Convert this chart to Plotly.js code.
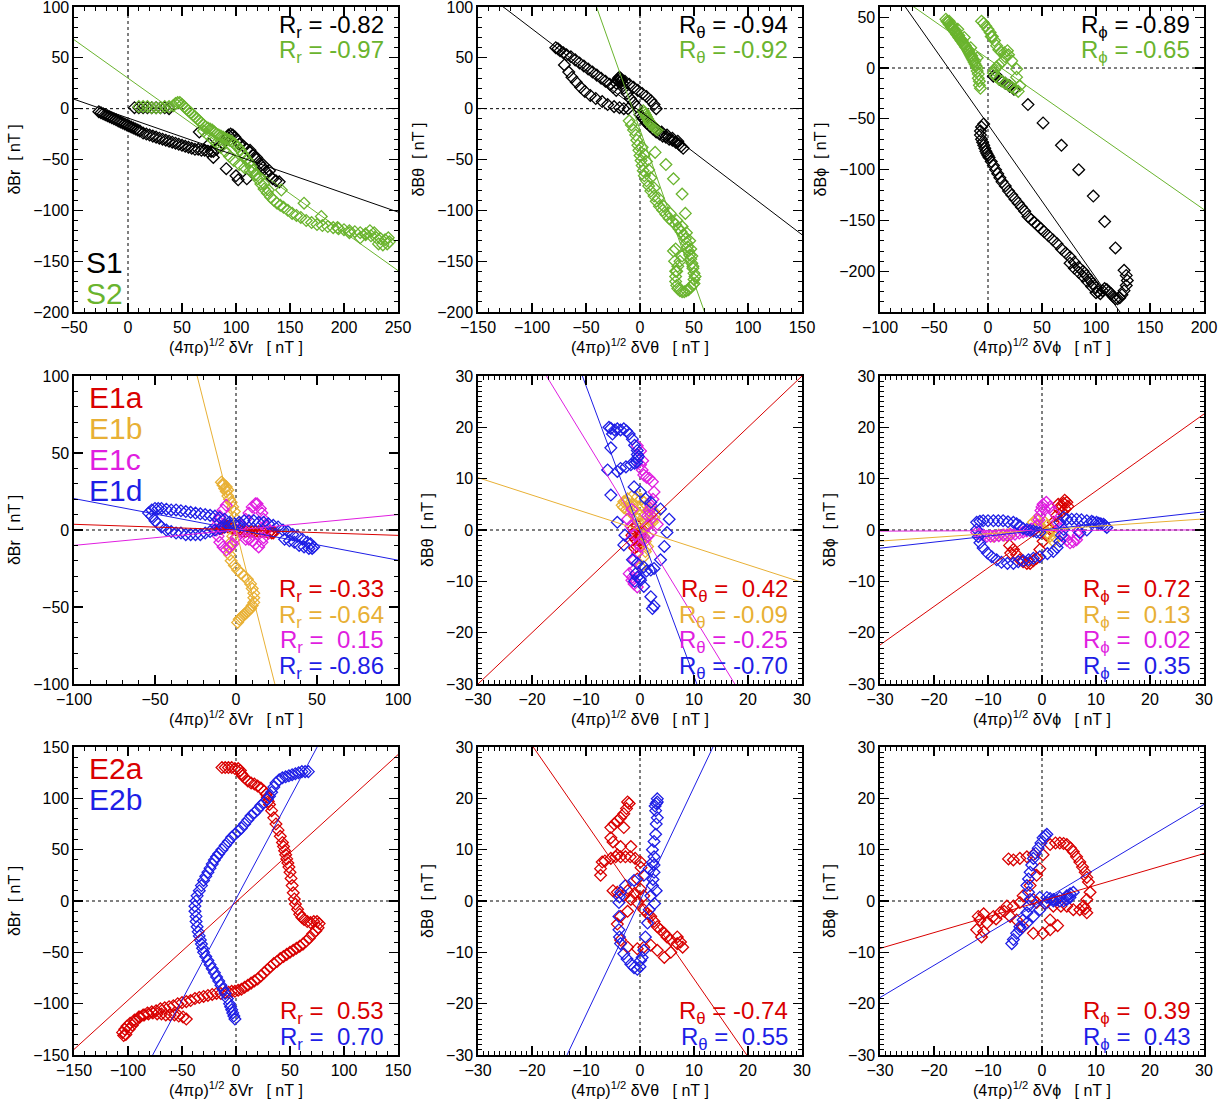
<!DOCTYPE html>
<html><head><meta charset="utf-8">
<script src="https://cdn.plot.ly/plotly-3.0.1.min.js"></script>
<style>body{margin:0;background:#fff}#c{width:1231px;height:1102px}</style>
</head><body><div id="c"></div><script>
// ---------------- DATA ----------------
// Row 1 : S1 (black) and S2 (green)
const P1_S1 = [[-27,-3],[-25,-4],[-23,-5],[-21,-6],[-19,-7],[-17,-8],[-15,-9],[-13,-10],[-11,-11],[-9,-12],[-7,-13],[-5,-14],[-3,-15],[-1,-16],[1,-17],[3,-18],[5,-19],[7,-20],[9,-21],[11,-22],[14,-24],[17,-25],[20,-26],[23,-27],[26,-28],[29,-29],[32,-30],[35,-31],[38,-32],[41,-33],[44,-34],[47,-35],[50,-36],[53,-37],[56,-38],[59,-39],[62,-40],[65,-40],[68,-41],[71,-41],[74,-42],[77,-42],[79,-42],
[82,-40],[85,-37],[88,-34],[90,-31],[92,-28],[93,-26],[95,-25],[97,-26],[99,-28],
[101,-31],[104,-34],[107,-37],[110,-40],[113,-43],[116,-46],[119,-50],[122,-54],[125,-58],[128,-62],[131,-66],[134,-69],[137,-71],[140,-72],
[66,-23],[75,-35],[79,-48],[91,-59],[100,-66],[102,-70],[110,-69],[103,-35],[113,-41],[119,-48],[125,-55],[131,-61],
[6,1],[10,1],[14,1],[18,1],[22,1],[26,1],[30,1],[34,1],[38,0]];
const P1_S2 = [[10,2],[14,2],[18,2],[22,1],[26,1],[30,1],[34,2],[38,2],[42,3],
[44,5],[46,6],[48,6],[50,4],[52,2],[54,0],[56,-2],[58,-4],[60,-6],[62,-8],[64,-10],[66,-12],[68,-14],[70,-16],[72,-18],[74,-19],[76,-20],[78,-21],[80,-23],[82,-25],[84,-26],[86,-27],[88,-28],[90,-29],[92,-30],[94,-31],[96,-32],[98,-34],[100,-36],[102,-38],[104,-41],[106,-44],[108,-47],[110,-50],[112,-53],[114,-57],[116,-61],[118,-65],[120,-69],
[123,-74],[126,-79],[129,-83],[132,-87],[135,-90],[138,-93],[141,-95],[144,-97],[148,-100],[152,-103],[156,-105],[160,-107],[165,-110],[170,-112],[175,-114],[180,-115],[185,-116],[190,-117],[195,-118],[200,-119],[205,-120],[210,-121],[215,-122],[220,-124],[225,-125],[230,-127],[234,-128],[238,-129],[241,-127],[242,-131],[240,-133],[236,-134],[232,-133],[228,-122],[224,-120],[220,-123],
[70,-22],[74,-26],[78,-30],[82,-34],[86,-38],[90,-42],[94,-47],[98,-51],[103,-55],[108,-58],[113,-61],[118,-65],[122,-68],[126,-74],[130,-80],
[142,-80],[163,-93],[179,-106],[194,-117],[205,-122],[215,-127]];

const P2_S1 = [[-78,60],[-76,59],[-74,57],[-71,55],[-68,53],[-64,51],[-60,48],[-56,45],[-52,42],[-48,39],[-44,36],[-40,33],[-36,30],[-32,27],[-28,24],[-25,21],[-22,18],
[-70,43],[-66,36],[-63,31],[-59,26],[-55,21],[-51,17],[-46,13],[-41,10],[-35,7],[-30,4],[-24,2],[-19,1],[-15,0],[-11,0],
[-22,25],[-21,28],[-20,30],[-19,31],[-18,30],[-17,28],[-16,25],[-20,27],[-18,26],
[-14,27],[-10,24],[-6,21],[-2,18],[2,15],[6,12],[10,8],[13,4],[15,0],
[-15,20],[-12,15],[-9,10],[-6,6],[-3,2],
[0,-6],[3,-10],[6,-14],[9,-17],[12,-20],[15,-23],[18,-25],[21,-27],[24,-28],[27,-30],[30,-31],[33,-33],[36,-35],[38,-37],[40,-39],[20,-23],[25,-26],[30,-29],[35,-32],[5,-12],[2,-8]];
const P2_S2 = [[3,-2],[4,-4],[5,-6],[6,-8],[7,-10],[8,-12],[9,-14],[10,-15],[11,-16],[12,-17],[13,-18],[14,-19],[15,-20],[16,-21],
[-10,-12],[-8,-16],[-6,-21],[-4,-26],[-3,-31],[-2,-36],[-1,-41],[0,-46],[1,-51],[2,-56],[3,-61],[4,-66],[6,-71],[8,-76],[10,-81],[13,-86],[15,-91],[18,-96],[21,-100],[24,-104],[27,-108],[30,-111],[33,-114],[36,-118],[38,-121],[40,-124],[42,-128],[43,-132],[44,-136],[45,-140],[46,-144],[47,-148],[48,-152],[49,-157],[50,-162],[50,-168],[49,-173],[47,-176],[45,-178],[43,-179],[41,-180],[39,-180],[37,-179],[35,-177],[34,-174],[33,-170],[33,-165],[34,-160],[35,-155],[37,-150],[39,-145],[33,-160],[32,-150],[31,-140],[33,-138],
[2,-38],[4,-45],[6,-52],[8,-60],[10,-68],[13,-78],[17,-88],[22,-96],[28,-103],[34,-110],[39,-116],[43,-122],[46,-130],[47,-138],[48,-145],[49,-155],[51,-165],[50,-172],
[14,-43],[24,-55],[31,-69],[39,-84],[42,-103]];

const P3_S1 = [[-4,-55],[-6,-58],[-7,-62],[-7,-66],[-6,-70],[-5,-73],[-4,-76],[-3,-79],[-2,-82],[-1,-84],[0,-86],[1,-88],[3,-92],[5,-96],[7,-100],[9,-104],[11,-108],[13,-112],[16,-116],[19,-121],[22,-125],[25,-129],[28,-133],[31,-137],[34,-141],[37,-146],[40,-149],[43,-152],[46,-155],[49,-158],[52,-161],[56,-165],[60,-169],[64,-173],[68,-178],[72,-182],[76,-186],[80,-191],[84,-196],[88,-200],[91,-204],[94,-208],[97,-212],[100,-216],
[102,-220],[104,-222],[106,-219],[108,-217],[110,-218],[112,-220],[114,-222],[116,-225],[118,-227],[120,-227],[122,-226],[124,-223],[126,-219],[128,-214],[129,-209],[128,-204],[126,-199],
[76,-192],[80,-197],[84,-201],[88,-205],[92,-210],[96,-215],[100,-221],
[118,-177],[108,-151],[97.5,-126],[84,-100],[68,-76],[51,-54],[37,-36],[20,-17.5],[11,-11],[5,-8],
[8,-8],[12,-12],[16,-15],[20,-18],[24,-21]];
const P3_S2 = [[-39,48],[-38,46],[-37,45],[-36,43],[-35,42],[-34,40],[-33,39],[-32,38],[-31,36],[-30,35],[-29,33],[-28,32],[-27,30],[-26,29],[-25,27],[-24,26],[-23,24],[-22,23],[-21,21],[-20,20],[-19,18],[-18,16],[-17,14],[-16,12],[-15,10],[-14,8],[-13,6],[-12,4],[-11,2],[-10,0],[-10,-3],[-9,-6],[-9,-10],[-8,-13],[-8,-17],[-7,-20],
[-33,42],[-30,37],[-27,32],[-24,27],[-21,22],[-18,17],[-15,12],[-12,7],[-36,46],[-28,38],[-22,30],[-16,20],[-10,10],
[-6,46],[-4,44],[-2,41],[0,38],[2,35],[4,31],[6,27],[8,22],[10,18],[12,16],[15,15],[18,17],[16,11],[13,6],[10,3],[8,1],[6,-2],[5,-5],[7,-8],[10,-11],[13,-13],[16,-15],[19,-17],[22,-19],[25,-21],[28,-23],
[3,31],[19,13],[22,7],[26.5,-1],[26.5,-9],[29.6,-17.5]];

// Row 2 : E1a (red), E1b (orange), E1c (magenta), E1d (blue)
const P4_E1a = [[-10,1],[-9,2],[-8,2],[-7,3],[-6,3],[-5,2],[-4,2],[-2,1],[0,0],[2,0],[4,-1],[6,-1],[8,-1],[10,-1],[12,-1],[14,-1],[16,-1],[18,-1],[20,-2],[22,-2],[23,-2],[-9,1],[-7,2],[21,-1],[23,-1]];
const P4_E1b = [[-9,31],[-8,29],[-7,27],[-6,25],[-5,22],[-4,20],[-3,18],[-2,15],[-1,12],[-1,8],[-1,4],[-2,0],[-2,-4],[-3,-8],[-4,-12],[-4,-16],[-3,-20],[-1,-23],[1,-26],[3,-28],[5,-30],[7,-32],[9,-35],[10,-38],[11,-41],[11,-44],[11,-47],[10,-49],[9,-51],[8,-52],[7,-53],[6,-54],[5,-55],[4,-56],[3,-57],[2,-58],[1,-60],[-8,30],[-6,28],[-5,26]];
const P4_E1c = [[-6,16],[-8,13],[-10,9],[-11,6],[-12,3],[-12,0],[-11,-4],[-10,-8],[-8,-11],[-6,-13],[-4,-11],[-2,-9],[0,-5],[2,-1],[4,3],[6,7],[8,11],[10,15],[12,17],[13,17],[15,14],[16,11],[17,7],[18,3],[18,-1],[17,-5],[16,-8],[14,-11],[12,-9],[10,-7],[8,-6],[6,-6]];
const P4_E1d = [[-54,11],[-52,13],[-50,14],[-48,14],[-46,14],[-43,13.5],[-40,13],[-37,13],[-34,12.5],[-31,12],[-28,11.5],[-25,11],[-22,10.5],[-19,10],[-16,9.5],[-13,9],[-10,8],[-7,7],[-4,5],[-1,4],[2,3],
[-52,9],[-50,6],[-48,4],[-46,2],[-43,0],[-40,-1],[-37,-2],[-34,-2],[-31,-3],[-28,-3],[-25,-3],[-22,-3],[-19,-2],[-16,-1],[-13,0],[-10,1],[-7,2],[-4,3],[-1,4],[2,5],[5,6],[8,6],[11,6],[14,5],[17,5],[20,4],[23,3],[26,2],[29,0],[32,-1],[35,-3],[38,-4],[41,-6],[44,-8],[46,-9],[48,-11],[47,-12],[45,-12],[42,-11],[39,-10],[36,-8],[33,-7],[30,-6]];

const P5_E1a = [[-0.5,0.8],[-1.1,-0.5],[-0.8,-1.9],[0.1,-1.2],[0.4,0.1],[-0.2,-2.9],[-1.5,-1.0],[-1.0,-3.5],[0.0,-2.0],[0.3,-0.5],[-1.3,0.3],[-0.6,-3.2]];
const P5_E1b = [[-3.3,4.8],[-3.0,5.5],[-2.3,6.1],[-1.5,6.5],[-0.5,6.4],[0.2,6.0],[0.7,5.4],[1.3,4.7],[2.0,4.1],[2.5,3.6],[2.9,3.1],[2.6,2.3],[2.3,1.5],[1.5,1.0],[0.7,0.5],[0,1.2],[-0.5,2.1],[-1.1,2.8],[-1.7,3.5],[-2.5,4.0],[-3.0,4.4],[0.7,-1.2],[1.0,-2.2],[1.4,-3.2],[1.0,-4.2],[0.7,-5.2],[0.1,-7.2],[-2.0,5.0],[-1.0,4.0],[0.0,3.0],[1.0,3.0],[2.0,2.0],[-2.5,5.5],[-1.5,5.0],[0.5,4.5],[1.5,3.8]];
const P5_E1c = [[-0.5,16.4],[0.1,15.4],[0.1,12.7],[0.4,11.7],[0.7,10.7],[1.2,10.3],[1.7,10.1],[2.3,9.4],[2.6,7.4],[2.4,6.0],[2.0,4.8],[1.7,3.8],[1.4,2.8],[1.4,0.8],[2.0,-0.5],[1.5,-1.2],[0.7,-1.9],[0.1,-3.2],[-0.5,-4.5],[-1.1,-5.8],[-1.1,-7.8],[-1.4,-9.2],[-1.1,-10.5],[-0.5,-11.1],[-1.7,0.8],[-2.3,2.1],[-1.5,4.0],[2.0,2.8],[3.2,1.1],[-2.0,-8.5],[-1.5,-9.8],[0.5,13.5],[-1.8,-2.0],[-1.0,-1.0]];
const P5_E1d = [[-5.75,20],[-5.4,19.8],[-5.1,18.7],[-4.7,19.5],[-4.2,19.7],[-3.6,19.5],[-3.0,19.7],[-2.5,19.3],[-2.0,18.7],[-1.4,17.7],[-1.0,16.5],[-0.5,14.7],[-0.5,14.0],[-0.6,13.2],[-1.0,13.0],[-1.7,12.7],[-2.6,12.3],[-3.6,12.0],[-4.2,11.4],[-6.0,11.7],[-5.4,16.0],[-5.4,6.8],[-4.2,1.5],[-3.0,-2.9],[-1.4,-5.8],[-0.5,-6.5],[0.7,-7.2],[2.0,-7.8],[2.6,-7.5],[3.8,-5.8],[4.5,-3.2],[5.0,-0.5],[5.4,2.1],[3.8,4.1],[2.0,5.4],[1.0,6.1],[0.1,7.4],[-1.1,8.4],[-0.5,-9.2],[0.1,-9.8],[0.7,-11],[2.0,-13],[2.6,-14.8],[2.3,-15.3],[-0.8,-8.5],[-1.0,-10],[0.0,-9.5],[1.2,-8.0],[-0.5,15.5],[-0.3,14.3],[-2.8,-1.0]];

const P6_E1a = [[-5.3,-3.8],[-4.7,-4.8],[-4.1,-5.8],[-3.5,-6.2],[-2.8,-6.5],[-2.2,-6.5],[-1.6,-6.0],[-1.0,-5.5],[-0.4,-3.8],[0.2,-2.2],[0.8,-1.0],[1.5,0.1],[2.1,1.5],[2.7,2.8],[3.2,4.0],[3.6,4.8],[4.0,5.2],[4.6,5.4],[4.8,4.6],[4.3,4.1],[3.8,3.5],[-6.0,-3.0],[-5.8,-4.5],[3.0,5.0],[4.2,5.8]];
const P6_E1b = [[-9.0,-1.2],[-8.0,-1.0],[-7.0,-1.0],[-6.0,-0.8],[-1.6,1.5],[-1.0,2.0],[-0.5,1.0],[0.2,0.1],[0.9,0.8],[1.5,-1.2],[2.1,-2.2],[2.5,-1.5],[1.0,-0.5],[0.5,1.5],[-0.3,0.5]];
const P6_E1c = [[-12.1,-0.5],[-11.5,-0.8],[-10.9,-1.0],[-10.2,-1.2],[-9.5,-1.2],[-8.8,-1.2],[-8.0,-1.1],[-7.2,-1.0],[-6.5,-1.0],[-5.8,-0.9],[-5.0,-0.8],[-4.2,-0.6],[-3.5,-0.4],[-2.8,-0.2],[-2.0,0.2],[-1.0,0.8],[-0.6,2.0],[-0.4,2.8],[-0.2,3.8],[0.2,5.0],[0.8,5.4],[1.5,4.5],[2.1,3.5],[2.7,1.5],[3.3,0.3],[4.0,-1.2],[4.6,-2.0],[5.2,-2.5],[5.8,-2.3],[6.4,-1.9],[6.7,-1.0],[6.7,-0.2],[0.5,4.0],[0.0,4.5]];
const P6_E1d = [[-12.1,1.5],[-11.5,1.7],[-10.9,1.8],[-10.0,1.8],[-9.0,1.8],[-8.1,1.8],[-7.2,1.8],[-6.3,1.6],[-5.3,1.5],[-4.7,1.2],[-4.1,0.8],[-3.5,0.3],[-2.8,0.1],[-2.2,-0.1],[-1.6,-0.2],[-1.0,-0.4],[-0.4,-0.5],[-12.1,0.1],[-11.8,-1.3],[-11.5,-2.5],[-10.9,-3.5],[-10.1,-4.5],[-9.3,-5.2],[-8.4,-5.8],[-7.5,-6.3],[-6.4,-6.5],[-5.3,-6.5],[-4.4,-6.2],[-3.5,-6.0],[-2.5,-5.8],[-1.6,-5.5],[-0.4,-5.2],[1.0,-4.6],[2.1,-4.2],[2.8,-3.4],[3.3,-2.2],[3.6,-1.0],[4.0,0.1],[3.3,1.5],[4.0,2.5],[4.6,2.1],[5.5,2.1],[6.4,2.1],[7.3,2.0],[8.3,1.8],[9.2,1.7],[10.1,1.5],[10.9,1.2],[11.7,0.8],[12.0,0.5],[11.4,1.1],[10.5,1.3],[9.5,1.5],[8.3,0.0],[7.0,-0.5]];

// Row 3 : E2a (red), E2b (blue)
const P7_E2a = [[-13,130],[-10,130],[-7,130],[-4,130],[-1,129],[2,129],[4,127],[5,124],[6,122],[8,120],[11,117],[14,115],[17,114],[20,112],[23,110],[26,107],[28,104],[29,101],[30,97],[31,94],[33,88],[35,81],[37,75],[39,69],[41,63],[43,57],[44,53],[45,49],[46,45],[47,41],[48,37],[49,33],[50,28],[51,22],[52,15],[53,8],[54,2],[55,-3],[57,-8],[59,-13],[61,-16],[63,-18],[66,-20],[69,-21],[72,-20],[75,-20],[77,-22],[76,-26],[74,-29],[71,-32],[68,-36],[65,-39],[62,-42],[59,-44],[56,-46],[53,-48],[50,-50],[47,-52],[44,-54],[41,-56],[38,-59],[35,-61],[32,-64],[29,-67],[26,-70],[23,-73],[20,-76],[17,-78],[14,-80],[11,-82],[8,-84],[5,-86],[2,-87],[-1,-88],[-4,-88],[-7,-89],[-10,-89],[-14,-90],[-18,-90],[-22,-91],[-26,-92],[-30,-93],[-34,-94],[-38,-95],[-42,-97],[-46,-98],[-50,-99],[-54,-100],[-58,-102],[-62,-103],[-66,-104],[-70,-105],[-74,-107],[-78,-108],[-82,-109],[-86,-111],[-90,-113],[-94,-116],[-98,-119],[-101,-122],[-103,-125],[-105,-128],[-104,-131],[-102,-130],[-99,-125],[-96,-121],[-93,-117],[-89,-113],[-85,-111],[-81,-110],[-77,-109],[-73,-110],[-69,-110],[-65,-111],[-61,-111],[-57,-111],[-53,-112],[-49,-113],[-46,-115]];
const P7_E2b = [[-1,-115],[-2,-112],[-3,-109],[-4,-106],[-5,-103],[-6,-100],[-8,-95],[-10,-90],[-12,-86],[-14,-82],[-16,-78],[-18,-74],[-20,-70],[-22,-66],[-24,-62],[-26,-58],[-28,-54],[-30,-50],[-31,-46],[-32,-42],[-33,-38],[-34,-34],[-35,-30],[-36,-25],[-37,-20],[-37,-15],[-38,-10],[-38,-5],[-37,0],[-36,5],[-34,10],[-32,15],[-30,20],[-28,24],[-26,28],[-24,32],[-22,36],[-20,40],[-18,43],[-16,46],[-13,50],[-10,54],[-7,58],[-4,62],[-1,65],[2,68],[5,71],[8,75],[11,79],[14,83],[17,86],[20,89],[23,93],[26,96],[29,99],[31,102],[33,106],[35,111],[37,115],[40,118],[43,120],[46,121],[49,122],[52,123],[55,124],[58,125],[61,126],[64,126],[67,126]];

const P8_E2a = [[-2.3,19.3],[-2.5,18.0],[-3.0,17.0],[-3.6,16.2],[-4.2,15.6],[-4.8,15.0],[-5.4,14.3],[-3.0,14.3],[-5.4,12.3],[-5.0,11.5],[-3.6,10.6],[-1.7,10.6],[-4.2,9.0],[-5.4,8.3],[-4.5,8.6],[-3.6,8.6],[-2.7,8.6],[-1.8,8.6],[-0.9,8.3],[0.1,7.6],[0.2,6.5],[-7.0,7.6],[-7.3,6.3],[-7.3,5.0],[-6.5,7.8],[-0.5,4.3],[-4.2,1.7],[-3.0,1.0],[-1.7,0.3],[-0.5,-0.3],[0.7,-1.7],[2.0,-3.0],[3.2,-5.0],[4.5,-6.3],[5.7,-7.6],[6.9,-8.3],[7.9,-9.0],[-2.3,-2.0],[-3.6,-3.0],[-4.2,-4.5],[-3.6,-7.6],[-2.3,-9.0],[-0.5,-9.3],[0.7,-9.0],[2.0,-8.6],[3.2,-9.6],[4.5,-11.0],[5.7,-10.0],[6.9,-7.0],[7.5,-8.0],[0.1,2.3],[0.7,1.0],[-1.0,1.5],[1.4,-2.5],[2.6,-4.0],[3.8,-5.6],[5.0,-7.0],[-2.3,2.0],[-5.0,2.0],[-2.0,19.0]];
const P8_E2b = [[3.2,19.9],[3.0,19.0],[2.9,17.6],[3.2,16.2],[3.0,15.0],[2.9,13.0],[2.6,11.6],[2.3,10.0],[2.6,8.6],[2.6,7.0],[2.6,5.6],[2.4,4.2],[2.3,3.0],[2.0,1.0],[1.7,-1.7],[1.4,-4.3],[1.0,-7.0],[0.7,-9.6],[0.4,-11.0],[0.1,-11.6],[-0.5,-13.3],[-1.1,-13.0],[-1.7,-12.3],[-2.4,-11.3],[-3.0,-10.3],[-3.6,-8.3],[-3.8,-7.0],[-3.9,-5.6],[-3.9,-3.0],[-3.9,-0.3],[-3.8,0.8],[-3.6,1.7],[-2.7,3.0],[-1.1,4.0],[0.7,5.0],[1.7,6.3],[2.3,7.5],[3.2,19.3],[2.8,18.5],[3.0,2.0],[2.7,-0.5],[0.0,-12.8]];

const P9_E2a = [[-11.5,-3.7],[-12.1,-5.6],[-11.2,-7.0],[-10.2,-4.3],[-11.8,-3.0],[-10.8,-2.5],[-9.0,-3.0],[-7.8,-2.3],[-6.5,-1.0],[-5.3,-1.0],[-4.1,-0.3],[-3.5,1.0],[-2.2,3.0],[-1.0,5.0],[-0.4,6.3],[0.2,9.0],[1.5,11.0],[2.5,11.3],[3.3,11.3],[4.0,11.2],[4.6,11.0],[5.3,10.3],[5.8,9.6],[6.4,8.6],[7.0,7.6],[7.5,6.6],[8.0,5.6],[8.3,4.6],[8.6,3.7],[8.9,1.7],[8.3,0.3],[7.7,-1.0],[8.3,-2.3],[8.0,-1.5],[7.0,-1.7],[5.8,-1.7],[4.6,-1.0],[3.5,-1.0],[2.1,-1.0],[1.5,-3.7],[1.5,-5.6],[0.2,-6.3],[-1.6,-6.3],[-3.5,-5.0],[-4.7,-3.7],[-5.9,-3.0],[-5.3,8.0],[-4.1,8.3],[-2.8,8.6],[-1.6,9.0],[-1.6,0.3],[-1.0,-0.3],[0.5,-0.5],[-7.0,-2.0],[-8.5,-3.5],[-6.2,8.2],[-10.8,-6.0],[2.9,-4.8]];
const P9_E2b = [[-5.6,-8.3],[-5.3,-7.5],[-4.7,-6.3],[-4.1,-5.0],[-3.5,-3.7],[-2.8,-2.3],[-2.5,-1.0],[-2.2,0.3],[-2.5,1.7],[-2.8,3.0],[-2.5,4.3],[-2.2,5.6],[-1.9,7.0],[-1.6,8.3],[-1.2,9.3],[-0.7,10.3],[-0.2,11.3],[0.2,12.3],[0.6,12.7],[0.9,13.0],[-4.1,-5.6],[-2.8,-4.3],[-1.6,-3.0],[-0.4,-1.7],[0.9,-0.3],[2.1,0.3],[3.3,0.7],[4.6,1.0],[5.2,1.4],[5.8,1.7],[5.2,0.7],[4.6,0.3],[3.3,0.0],[2.1,0.0],[0.9,0.7],[-0.4,0.7],[1.5,0.5],[2.7,0.2],[4.0,0.0]];

// Linear-fit slopes and intercepts (per panel, same order as series)
const FIT_SLOPE = [[-0.37,-0.757],[-0.81,-3.0],[-1.51,-0.742],
                   [-0.036,-4.17,0.10,-0.20],[1.0,-0.34,-1.72,-2.83],[0.75,0.072,0.004,0.118],
                   [0.957,1.97],[-1.517,2.22],[0.308,0.627]];
const FIT_ICPT  = [[-9.2,30],[-2.5,-20.7],[-55.5,9.1],
                   [0.1,0,0,0.4],[0,0,0.2,-0.2],[0.1,0,-0.1,0],
                   [-1,2],[0,0],[0,0]];
// Correlation coefficients shown in each panel
const R_VALUES = [['-0.82','-0.97'],['-0.94','-0.92'],['-0.89','-0.65'],
                  ['-0.33','-0.64','0.15','-0.86'],['0.42','-0.09','-0.25','-0.70'],['0.72','0.13','0.02','0.35'],
                  ['0.53','0.70'],['-0.74','0.55'],['0.39','0.43']];
const GROUP_LABELS = [['S1','S2'],['E1a','E1b','E1c','E1d'],['E2a','E2b']];
const COMPONENTS = ['r','θ','ϕ'];

// ---------------- STYLE ----------------
const FONT = "'Liberation Sans', Arial, Helvetica, sans-serif";
const COL = {k:'#000000', g:'#6ab42e', r:'#d90000', o:'#e8b035', m:'#e01ee0', b:'#1e1ee6'};
const ROW_COLORS = [['k','g'],['r','o','m','b'],['r','b']];
const ROW_SERIES = [[[P1_S1,P1_S2],[P2_S1,P2_S2],[P3_S1,P3_S2]],
                    [[P4_E1a,P4_E1b,P4_E1c,P4_E1d],[P5_E1a,P5_E1b,P5_E1c,P5_E1d],[P6_E1a,P6_E1b,P6_E1c,P6_E1d]],
                    [[P7_E2a,P7_E2b],[P8_E2a,P8_E2b],[P9_E2a,P9_E2b]]];
const XR = [[-50,250],[-150,150],[-100,200],[-100,100],[-30,30],[-30,30],[-150,150],[-30,30],[-30,30]];
const YR = [[-200,100],[-200,100],[-240,60],[-100,100],[-30,30],[-30,30],[-150,150],[-30,30],[-30,30]];
const DT = [50,50,50,50,10,10,50,10,10];
const MN = [10,10,10,10,1,1,10,1,1];
const W = 1231, H = 1102;
const COLX = [[74,398],[478,802],[880,1204]];
const ROWY = [[7,312],[376,684],[747,1055]];
const NB = s => s.replace(/ /g,'\u00a0');

const traces = [], shapes = [], annotations = [];
const layout = {width:W, height:H, margin:{l:0,r:0,t:0,b:0}, paper_bgcolor:'#fff', plot_bgcolor:'#fff',
  showlegend:false, font:{family:FONT, color:'#000'}};

for (let i = 0; i < 9; i++) {
  const row = Math.floor(i/3), col = i%3, s = i === 0 ? '' : String(i+1);
  const comp = COMPONENTS[col];
  const axCommon = {ticks:'inside', ticklen:9, tickwidth:1.2, tickcolor:'#000', mirror:'allticks',
    showline:true, linecolor:'#000', linewidth:1.6, showgrid:false, zeroline:false, tick0:0,
    ticklabeloverflow:'allow',
    tickfont:{family:FONT, size:16, color:'#000'}, automargin:false, fixedrange:true};
  layout['xaxis'+s] = Object.assign({}, axCommon, {
    domain:[COLX[col][0]/W, COLX[col][1]/W], range:XR[i], dtick:DT[i], anchor:'y'+s,
    minor:{dtick:MN[i], tick0:0, ticks:'inside', ticklen:4, tickwidth:1, tickcolor:'#000', showgrid:false},
    title:{text:NB('(4πρ)<sup>1/2</sup> δV'+comp+'   [ nT ]'), font:{family:FONT,size:16,color:'#000'}, standoff:5}});
  layout['yaxis'+s] = Object.assign({}, axCommon, {
    domain:[1-ROWY[row][1]/H, 1-ROWY[row][0]/H], range:YR[i], dtick:DT[i], anchor:'x'+s,
    minor:{dtick:MN[i], tick0:0, ticks:'inside', ticklen:4, tickwidth:1, tickcolor:'#000', showgrid:false},
    title:{text:NB('δB'+comp+'  [ nT ]'), font:{family:FONT,size:16,color:'#000'}, standoff:8}});

  // zero lines
  shapes.push({type:'line', layer:'below', xref:'x'+s, yref:'y'+s+' domain', x0:0, x1:0, y0:0, y1:1, line:{color:'#000', width:1, dash:'dot'}});
  shapes.push({type:'line', layer:'below', xref:'x'+s+' domain', yref:'y'+s, x0:0, x1:1, y0:0, y1:0, line:{color:'#000', width:1, dash:'dot'}});

  const series = ROW_SERIES[row][col], colors = ROW_COLORS[row];
  series.forEach((pts, k) => {
    traces.push({type:'scatter', mode:'markers', xaxis:'x'+s, yaxis:'y'+s, hoverinfo:'skip',
      x: pts.map(p => p[0]), y: pts.map(p => p[1]),
      marker:{symbol:'diamond-open', size:9, color:COL[colors[k]], line:{width:1.3, color:COL[colors[k]]}}});
  });
  series.forEach((pts, k) => {
    const m = FIT_SLOPE[i][k], b = FIT_ICPT[i][k];
    traces.push({type:'scatter', mode:'lines', xaxis:'x'+s, yaxis:'y'+s, hoverinfo:'skip',
      x: XR[i], y: XR[i].map(x => m*x + b), line:{color:COL[colors[k]], width:1}});
  });

  // R annotations
  const rv = R_VALUES[i], n = rv.length;
  rv.forEach((v, k) => {
    const txt = 'R<sub>'+comp+'</sub> = ' + (v.charAt(0) === '-' ? v : '\u00a0'+v);
    const a = {xref:'x'+s+' domain', yref:'y'+s+' domain', x:1, xanchor:'right', xshift:-12,
      yanchor:'middle', text:txt, showarrow:false, font:{family:FONT, size:24, color:COL[colors[k]]}};
    if (row === 0) { a.y = 1; a.yshift = -(20 + k*25); }
    else { a.y = 0; a.yshift = 17 + (n-1-k)*25.5; }
    annotations.push(a);
  });
  // group labels (first column)
  if (col === 0) {
    GROUP_LABELS[row].forEach((t, k) => {
      const a = {xref:'x'+s+' domain', yref:'y'+s+' domain', x:0, xanchor:'left', y:1, yanchor:'middle',
        text:t, showarrow:false, font:{family:FONT, color:COL[colors[k]], size:30}};
      if (row === 0) { a.xshift = 10; a.yshift = -(255 + k*31); }
      else { a.xshift = 13; a.yshift = -(21 + k*31); }
      annotations.push(a);
    });
  }
}
layout.shapes = shapes;
layout.annotations = annotations;
Plotly.newPlot('c', traces, layout, {displayModeBar:false, staticPlot:true});
</script></body></html>
